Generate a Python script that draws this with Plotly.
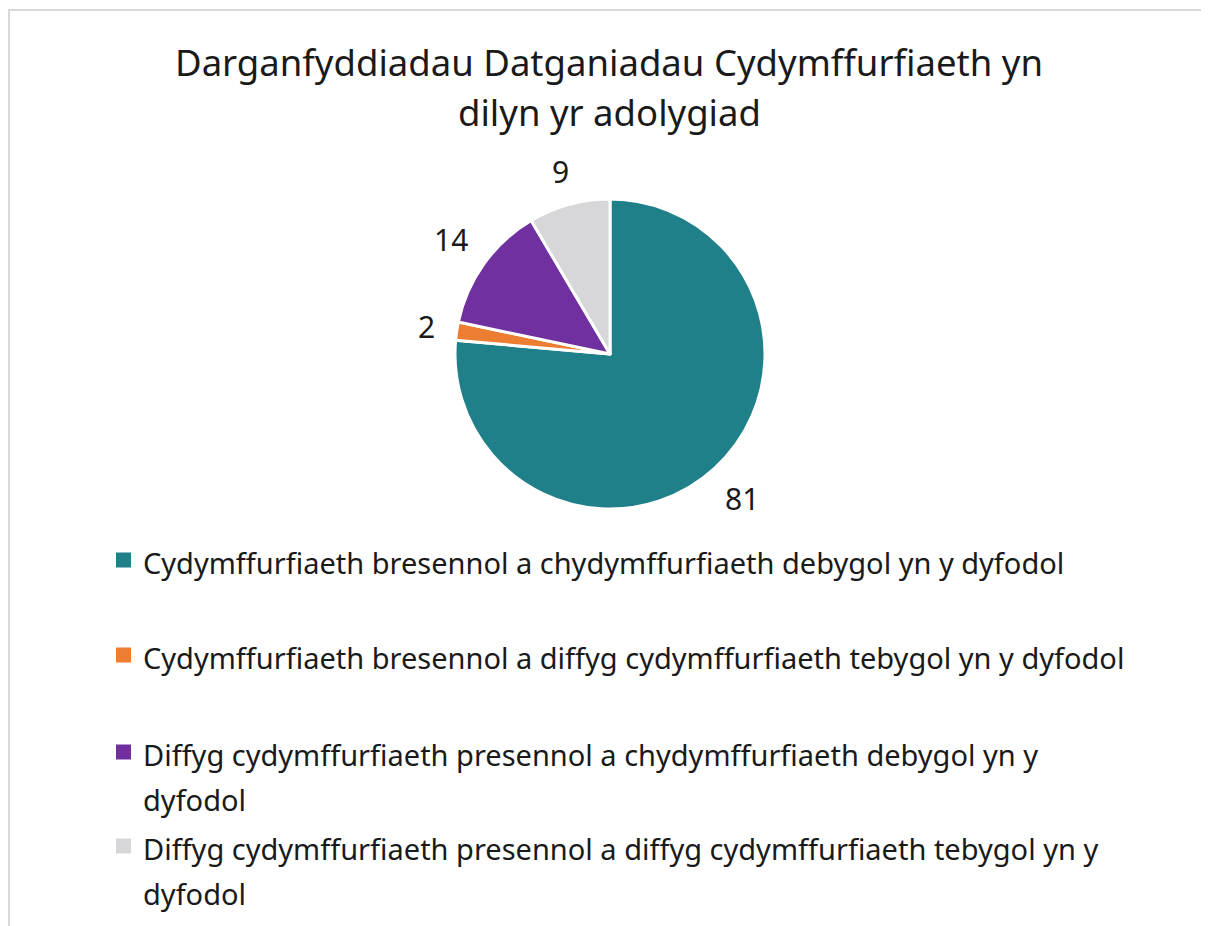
import math
import textwrap
import plotly.graph_objects as go

title_lines = ["Darganfyddiadau Datganiadau Cydymffurfiaeth yn", "dilyn yr adolygiad"]
labels = [
    "Cydymffurfiaeth bresennol a chydymffurfiaeth debygol yn y dyfodol",
    "Cydymffurfiaeth bresennol a diffyg cydymffurfiaeth tebygol yn y dyfodol",
    "Diffyg cydymffurfiaeth presennol a chydymffurfiaeth debygol yn y dyfodol",
    "Diffyg cydymffurfiaeth presennol a diffyg cydymffurfiaeth tebygol yn y dyfodol",
]
values = [81, 2, 14, 9]
colors = ["#208089", "#ED7D31", "#7030A0", "#D7D6D8"]

OFF = 8  # page body margin
W, H = 1209 - OFF, 926 - OFF
FONT = "Noto Sans"
TXT = "#1a1a1a"

def px(x):
    return (x - OFF) / W

def py(y):
    return 1 - (y - OFF) / H

cx, cy, r = 610, 354, 155

fig = go.Figure(go.Pie(
    labels=labels,
    values=values,
    sort=False,
    direction="clockwise",
    rotation=0,
    marker=dict(colors=colors, line=dict(color="white", width=3)),
    textinfo="none",
    domain=dict(x=[px(cx - r), px(cx + r)], y=[py(cy + r), py(cy - r)]),
    showlegend=False,
    hoverinfo="label+value",
))

annotations = []

# data labels placed just outside each slice's mid-angle
total = sum(values)
cum = 0
gap = 20
for v in values:
    mid = (cum + v / 2) / total * 2 * math.pi
    cum += v
    ux, uy = math.sin(mid), -math.cos(mid)
    txt = str(v)
    w, h = 17 * len(txt), 24
    d = r + gap + (w / 2) * abs(ux) + (h / 2) * abs(uy)
    annotations.append(dict(text=txt, x=px(cx + d * ux), y=py(cy + d * uy),
                            xref="paper", yref="paper", xanchor="center", yanchor="middle",
                            showarrow=False, font=dict(family=FONT, size=30, color=TXT)))

title_y = [62, 112]
for line, y in zip(title_lines, title_y):
    annotations.append(dict(text=line, x=px(609), y=py(y), xref="paper", yref="paper",
                            xanchor="center", yanchor="middle", showarrow=False,
                            font=dict(family=FONT, size=36.5, color=TXT)))

shapes = [
    dict(type="line", xref="paper", yref="paper", x0=px(8), x1=1.01, y0=py(10), y1=py(10),
         line=dict(color="#D9D9D9", width=2)),
    dict(type="line", xref="paper", yref="paper", x0=px(9), x1=px(9), y0=py(10), y1=-0.01,
         line=dict(color="#D9D9D9", width=2)),
]

item_y = [560, 655, 752, 846]
line_h = 45
for lab, col, y in zip(labels, colors, item_y):
    shapes.append(dict(type="rect", xref="paper", yref="paper",
                       x0=px(116), x1=px(131), y0=py(y + 7.5), y1=py(y - 7.5),
                       fillcolor=col, line=dict(width=0)))
    for i, ln in enumerate(textwrap.wrap(lab, 71)):
        annotations.append(dict(text=ln, x=px(141), y=py(y + 2 + i * line_h),
                                xref="paper", yref="paper", xanchor="left", yanchor="middle",
                                showarrow=False, font=dict(family=FONT, size=29, color=TXT)))

fig.update_layout(
    width=W, height=H,
    margin=dict(l=0, r=0, t=0, b=0),
    paper_bgcolor="white", plot_bgcolor="white",
    annotations=annotations, shapes=shapes,
    font=dict(family=FONT),
)

fig.write_html("out.html")
